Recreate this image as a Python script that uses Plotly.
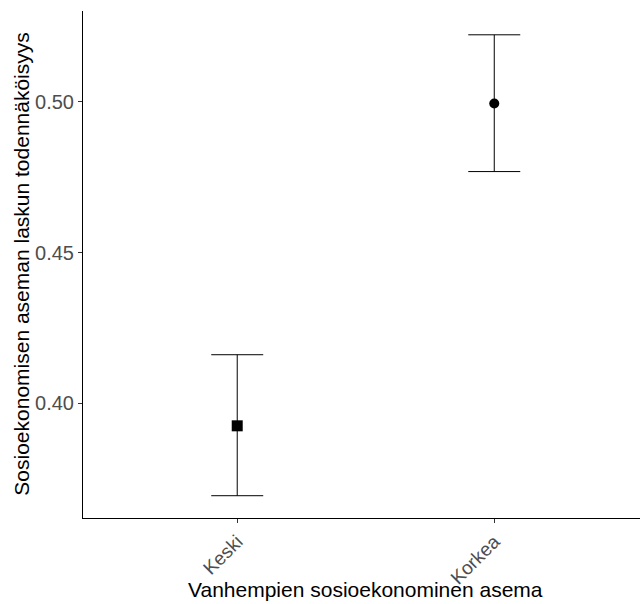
import plotly.graph_objects as go

categories = ["Keski", "Korkea"]
means = [0.3925, 0.4995]
lower = [0.3693, 0.4769]
upper = [0.4161, 0.5223]
symbols = ["square", "circle"]
sizes = [11, 10]

x_title = "Vanhempien sosioekonominen asema"
y_title = "Sosioekonomisen aseman laskun todennäköisyys"

fig = go.Figure()
fig.add_trace(go.Scatter(
    x=categories, y=means, mode="markers",
    marker=dict(symbol=symbols, size=sizes, color="#000000", opacity=1,
                line=dict(width=0, color="#000000")),
    error_y=dict(type="data", symmetric=False,
                 array=[u - m for u, m in zip(upper, means)],
                 arrayminus=[m - l for m, l in zip(means, lower)],
                 color="black", thickness=1, width=26),
    showlegend=False,
))

# plot area: x 83..640, y 11..518 (page pixels)
fig.update_layout(
    width=640, height=604,
    margin=dict(l=83, r=0, t=11, b=86),
    paper_bgcolor="white", plot_bgcolor="white",
    font=dict(family="Liberation Sans, Arial, sans-serif", color="black"),
    annotations=[
        dict(text=x_title, xref="paper", yref="paper", x=0.508, y=-0.142,
             xanchor="center", yanchor="middle", showarrow=False,
             font=dict(size=21, color="black")),
        dict(text=y_title, xref="paper", yref="paper", x=-0.111, y=0.5,
             xanchor="center", yanchor="middle", showarrow=False, textangle=-90,
             font=dict(size=21, color="black")),
    ],
)
fig.update_xaxes(
    type="category", range=[-0.6, 1.567],
    showline=True, linecolor="black", linewidth=1, mirror=False,
    ticks="outside", ticklen=4, tickcolor="#333333",
    tickangle=-45, tickfont=dict(size=19, color="#4D4D4D"),
    showgrid=False, zeroline=False,
)
fig.update_yaxes(
    range=[0.3619, 0.5302],
    tickvals=[0.40, 0.45, 0.50], ticktext=["0.40", "0.45", "0.50"],
    showline=True, linecolor="black", linewidth=1,
    ticks="outside", ticklen=4, tickcolor="#333333",
    tickfont=dict(size=20, color="#4D4D4D"),
    showgrid=False, zeroline=False,
)

fig.write_html("out.html",
               config={"displayModeBar": False},
               post_script="document.body.style.margin='0';document.body.style.overflow='hidden';")
